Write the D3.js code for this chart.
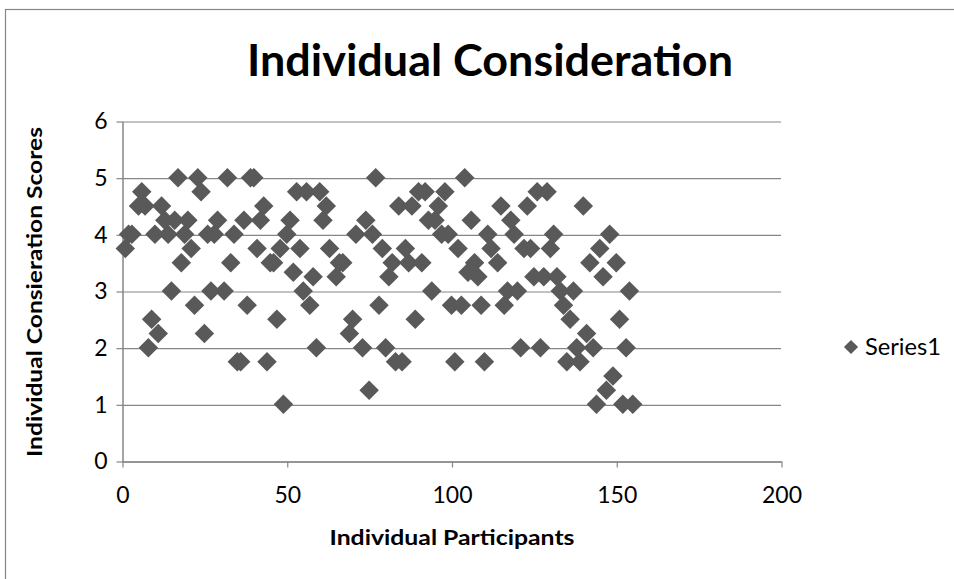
<!DOCTYPE html>
<html>
<head>
<meta charset="utf-8">
<script src="https://cdn.jsdelivr.net/npm/d3@7"></script>
<style>
  html, body { margin: 0; padding: 0; background: #fff; }
  svg { display: block; font-family: Lato, "Open Sans", sans-serif; }
</style>
</head>
<body>
<svg id="chart" width="954" height="579"></svg>
<script>
// Participant numbers and their individual consideration scores
const participants = [1,2,3,5,6,7,8,9,10,11,12,13,14,15,16,17,18,19,20,21,22,23,24,25,26,27,28,29,31,32,33,34,35,36,37,38,39,40,41,42,43,44,45,46,47,48,49,50,51,52,53,54,55,56,57,58,59,60,61,62,63,65,66,67,69,70,71,73,74,75,76,77,78,79,80,81,82,83,84,85,86,87,88,89,90,91,92,93,94,95,96,97,98,99,100,101,102,103,104,105,106,107,108,109,110,111,112,114,115,116,117,118,119,120,121,122,123,124,125,126,127,128,129,130,131,132,133,134,135,136,137,138,139,140,141,142,143,144,145,146,147,148,149,150,151,152,153,154,155];
const scores = [3.75,4,4,4.5,4.75,4.5,2,2.5,4,2.25,4.5,4.25,4,3,4.25,5,3.5,4,4.25,3.75,2.75,5,4.75,2.25,4,3,4,4.25,3,5,3.5,4,1.75,1.75,4.25,2.75,5,5,3.75,4.25,4.5,1.75,3.5,3.5,2.5,3.75,1,4,4.25,3.33,4.75,3.75,3,4.75,2.75,3.25,2,4.75,4.25,4.5,3.75,3.25,3.5,3.5,2.25,2.5,4,2,4.25,1.25,4,5,2.75,3.75,2,3.25,3.5,1.75,4.5,1.75,3.75,3.5,4.5,2.5,4.75,3.5,4.75,4.25,3,4.25,4.5,4,4.75,4,2.75,1.75,3.75,2.75,5,3.33,4.25,3.5,3.25,2.75,1.75,4,3.75,3.5,4.5,2.75,3,4.25,4,3,2,3.75,4.5,3.75,3.25,4.75,2,3.25,4.75,3.75,4,3.25,3,2.75,1.75,2.5,3,2,1.75,4.5,2.25,3.5,2,1,3.75,3.25,1.25,4,1.5,3.5,2.5,1,2,3,1];

const xTicks = [0, 50, 100, 150, 200];
const yTicks = [0, 1, 2, 3, 4, 5, 6];
const seriesName = "Series1";
const chartTitle = "Individual Consideration";
const xTitle = "Individual Participants";
const yTitle = "Individual Consieration Scores";

const points = participants.map((p, i) => ({ p, s: scores[i] }));

const svg = d3.select("#chart");
const grey = "#868686";
const markColor = "#595959";

// Outer chart frame
svg.append("rect")
  .attr("x", 5.5).attr("y", 9.5)
  .attr("width", 1000).attr("height", 1000)
  .attr("fill", "#fff")
  .attr("stroke", grey).attr("stroke-width", 1.2);

const plot = { left: 122, right: 781, top: 121, bottom: 461 };
const x = d3.scaleLinear().domain([0, 200]).range([plot.left, plot.right]);
const y = d3.scaleLinear().domain([0, 6]).range([plot.bottom, plot.top]);

// Horizontal gridlines
svg.append("g")
  .attr("transform", `translate(${plot.left},0.5)`)
  .call(d3.axisLeft(y).tickValues(yTicks).tickSize(-(plot.right - plot.left)).tickFormat(""))
  .call(g => g.select(".domain").remove())
  .call(g => g.selectAll("line").attr("stroke", grey).attr("stroke-width", 1.2));

// Y axis with outward ticks and labels
svg.append("g")
  .attr("transform", `translate(${plot.left + 0.5},0.5)`)
  .call(d3.axisLeft(y).tickValues(yTicks).tickFormat(d3.format("d"))
    .tickSize(6).tickSizeOuter(0).tickPadding(9))
  .call(g => g.select(".domain").attr("stroke", grey).attr("stroke-width", 1.5))
  .call(g => g.selectAll("line").attr("stroke", grey).attr("stroke-width", 1.2))
  .call(g => g.selectAll("text").attr("font-size", 23).attr("fill", "#000")
    .attr("font-family", "Lato, sans-serif"));

// X axis with outward ticks and labels
svg.append("g")
  .attr("transform", `translate(0.5,${plot.bottom + 0.5})`)
  .call(d3.axisBottom(x).tickValues(xTicks).tickFormat(d3.format("d"))
    .tickSize(6).tickSizeOuter(0).tickPadding(19))
  .call(g => g.select(".domain").attr("stroke", grey).attr("stroke-width", 1.5))
  .call(g => g.selectAll("line").attr("stroke", grey).attr("stroke-width", 1.2))
  .call(g => g.selectAll("text").attr("font-size", 23).attr("fill", "#000")
    .attr("font-family", "Lato, sans-serif"));

// Diamond markers
const diamond = d3.symbol().type(d3.symbolSquare).size(190);
svg.append("g")
  .selectAll("path")
  .data(points)
  .join("path")
  .attr("d", diamond)
  .attr("transform", d => `translate(${x(d.p)},${y(d.s)}) rotate(45)`)
  .attr("fill", markColor);

// Chart title
svg.append("text")
  .attr("x", 490).attr("y", 76)
  .attr("text-anchor", "middle")
  .attr("font-size", 44).attr("font-weight", "bold")
  .attr("textLength", 486).attr("lengthAdjust", "spacingAndGlyphs")
  .text(chartTitle);

// Axis titles
svg.append("text")
  .attr("x", 452).attr("y", 545)
  .attr("text-anchor", "middle")
  .attr("font-size", 21).attr("font-weight", "bold")
  .attr("textLength", 245).attr("lengthAdjust", "spacingAndGlyphs")
  .text(xTitle);

svg.append("text")
  .attr("transform", "translate(42,292) rotate(-90)")
  .attr("text-anchor", "middle")
  .attr("font-size", 21).attr("font-weight", "bold")
  .attr("textLength", 330).attr("lengthAdjust", "spacingAndGlyphs")
  .text(yTitle);

// Legend
const legend = svg.append("g").attr("transform", "translate(851,347)");
legend.append("path")
  .attr("d", d3.symbol().type(d3.symbolSquare).size(100))
  .attr("transform", "rotate(45)")
  .attr("fill", markColor);
legend.append("text")
  .attr("x", 14).attr("y", 8)
  .attr("font-size", 23)
  .attr("textLength", 76).attr("lengthAdjust", "spacingAndGlyphs")
  .text(seriesName);
</script>
</body>
</html>
